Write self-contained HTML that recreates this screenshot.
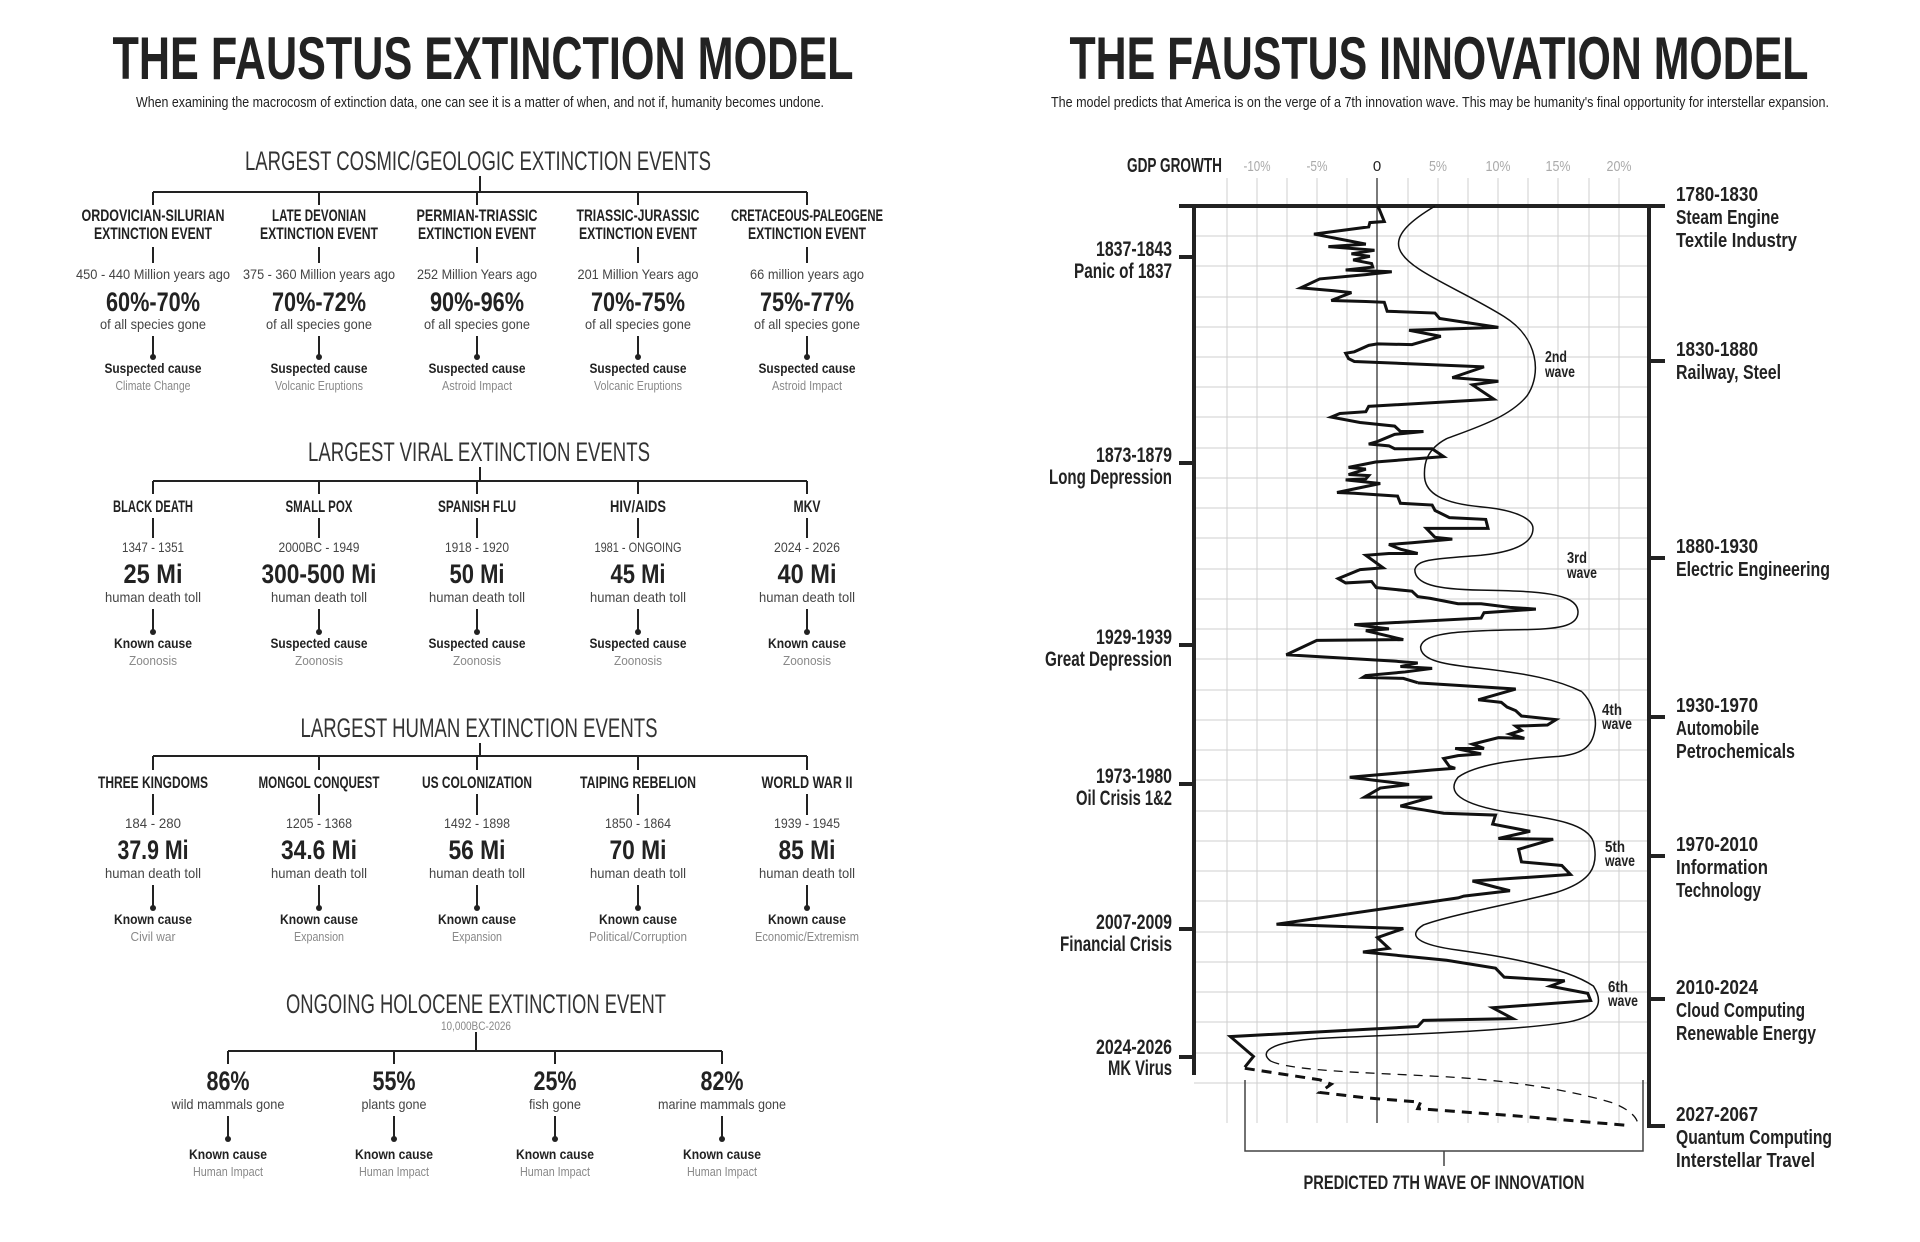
<!DOCTYPE html>
<html><head><meta charset="utf-8">
<style>
html,body{margin:0;padding:0;background:#fff}
svg{display:block}
text{font-family:"Liberation Sans Narrow","Liberation Sans",sans-serif;fill:#222}
.t{font-size:60px;font-weight:bold}
.st{font-size:15px}
.h{font-size:27px;fill:#333}
.n{font-size:17px;font-weight:bold;text-anchor:middle}
.d{font-size:14px;text-anchor:middle;fill:#444}
.b{font-size:27px;font-weight:bold;text-anchor:middle}
.s{font-size:14px;text-anchor:middle;fill:#444}
.c{font-size:14px;font-weight:bold;text-anchor:middle}
.g{font-size:13px;text-anchor:middle;fill:#888}
.ll{font-size:21px;font-weight:bold;text-anchor:end}
.rl{font-size:20px;font-weight:bold}
.tk{font-size:15px;fill:#aaa;text-anchor:middle}
.w{font-size:16px;font-weight:bold}
.m{text-anchor:middle}
</style></head><body>
<svg width="1920" height="1242" viewBox="0 0 1920 1242" xmlns="http://www.w3.org/2000/svg">
<!-- LEFT -->
<text class="t m" x="483" y="79" textLength="741" lengthAdjust="spacingAndGlyphs">THE FAUSTUS EXTINCTION MODEL</text>
<text class="st m" x="480" y="107" textLength="688" lengthAdjust="spacingAndGlyphs">When examining the macrocosm of extinction data, one can see it is a matter of when, and not if, humanity becomes undone.</text>

<g stroke="#222" stroke-width="2" fill="none">
<path d="M480 176V192M153 192H807M153 192V205M319 192V205M477 192V205M638 192V205M807 192V205"/>
<path d="M153 247V263M319 247V263M477 247V263M638 247V263M807 247V263"/>
<path d="M153 336V357M319 336V357M477 336V357M638 336V357M807 336V357"/>
<path d="M480 467V481M153 481H807M153 481V494M319 481V494M477 481V494M638 481V494M807 481V494"/>
<path d="M153 518V538M319 518V538M477 518V538M638 518V538M807 518V538"/>
<path d="M153 609V632M319 609V632M477 609V632M638 609V632M807 609V632"/>
<path d="M480 743V756M153 756H807M153 756V770M319 756V770M477 756V770M638 756V770M807 756V770"/>
<path d="M153 794V815M319 794V815M477 794V815M638 794V815M807 794V815"/>
<path d="M153 885V908M319 885V908M477 885V908M638 885V908M807 885V908"/>
<path d="M476 1032V1051M228 1051H722M228 1051V1064M394 1051V1064M555 1051V1064M722 1051V1064"/>
<path d="M228 1116V1139M394 1116V1139M555 1116V1139M722 1116V1139"/>
</g>
<g fill="#222">
<circle cx="153" cy="357" r="3"/><circle cx="319" cy="357" r="3"/><circle cx="477" cy="357" r="3"/><circle cx="638" cy="357" r="3"/><circle cx="807" cy="357" r="3"/>
<circle cx="153" cy="632" r="3"/><circle cx="319" cy="632" r="3"/><circle cx="477" cy="632" r="3"/><circle cx="638" cy="632" r="3"/><circle cx="807" cy="632" r="3"/>
<circle cx="153" cy="908" r="3"/><circle cx="319" cy="908" r="3"/><circle cx="477" cy="908" r="3"/><circle cx="638" cy="908" r="3"/><circle cx="807" cy="908" r="3"/>
<circle cx="228" cy="1139" r="3"/><circle cx="394" cy="1139" r="3"/><circle cx="555" cy="1139" r="3"/><circle cx="722" cy="1139" r="3"/>
</g>

<g lengthAdjust="spacingAndGlyphs">
<text class="h m" x="478" y="170" textLength="466" lengthAdjust="spacingAndGlyphs">LARGEST COSMIC/GEOLOGIC EXTINCTION EVENTS</text>
<text class="n" x="153" y="221" textLength="143" lengthAdjust="spacingAndGlyphs">ORDOVICIAN-SILURIAN</text>
<text class="n" x="153" y="239" textLength="118" lengthAdjust="spacingAndGlyphs">EXTINCTION EVENT</text>
<text class="n" x="319" y="221" textLength="94" lengthAdjust="spacingAndGlyphs">LATE DEVONIAN</text>
<text class="n" x="319" y="239" textLength="118" lengthAdjust="spacingAndGlyphs">EXTINCTION EVENT</text>
<text class="n" x="477" y="221" textLength="121" lengthAdjust="spacingAndGlyphs">PERMIAN-TRIASSIC</text>
<text class="n" x="477" y="239" textLength="118" lengthAdjust="spacingAndGlyphs">EXTINCTION EVENT</text>
<text class="n" x="638" y="221" textLength="123" lengthAdjust="spacingAndGlyphs">TRIASSIC-JURASSIC</text>
<text class="n" x="638" y="239" textLength="118" lengthAdjust="spacingAndGlyphs">EXTINCTION EVENT</text>
<text class="n" x="807" y="221" textLength="152" lengthAdjust="spacingAndGlyphs">CRETACEOUS-PALEOGENE</text>
<text class="n" x="807" y="239" textLength="118" lengthAdjust="spacingAndGlyphs">EXTINCTION EVENT</text>
<text class="d" x="153" y="279" textLength="154" lengthAdjust="spacingAndGlyphs">450 - 440 Million years ago</text>
<text class="d" x="319" y="279" textLength="152" lengthAdjust="spacingAndGlyphs">375 - 360 Million years ago</text>
<text class="d" x="477" y="279" textLength="120" lengthAdjust="spacingAndGlyphs">252 Million Years ago</text>
<text class="d" x="638" y="279" textLength="121" lengthAdjust="spacingAndGlyphs">201 Million Years ago</text>
<text class="d" x="807" y="279" textLength="114" lengthAdjust="spacingAndGlyphs">66 million years ago</text>
<text class="b" x="153" y="311" textLength="94" lengthAdjust="spacingAndGlyphs">60%-70%</text>
<text class="b" x="319" y="311" textLength="94" lengthAdjust="spacingAndGlyphs">70%-72%</text>
<text class="b" x="477" y="311" textLength="94" lengthAdjust="spacingAndGlyphs">90%-96%</text>
<text class="b" x="638" y="311" textLength="94" lengthAdjust="spacingAndGlyphs">70%-75%</text>
<text class="b" x="807" y="311" textLength="94" lengthAdjust="spacingAndGlyphs">75%-77%</text>
<text class="s" x="153" y="329" textLength="106" lengthAdjust="spacingAndGlyphs">of all species gone</text>
<text class="s" x="319" y="329" textLength="106" lengthAdjust="spacingAndGlyphs">of all species gone</text>
<text class="s" x="477" y="329" textLength="106" lengthAdjust="spacingAndGlyphs">of all species gone</text>
<text class="s" x="638" y="329" textLength="106" lengthAdjust="spacingAndGlyphs">of all species gone</text>
<text class="s" x="807" y="329" textLength="106" lengthAdjust="spacingAndGlyphs">of all species gone</text>
<text class="c" x="153" y="373" textLength="97" lengthAdjust="spacingAndGlyphs">Suspected cause</text>
<text class="c" x="319" y="373" textLength="97" lengthAdjust="spacingAndGlyphs">Suspected cause</text>
<text class="c" x="477" y="373" textLength="97" lengthAdjust="spacingAndGlyphs">Suspected cause</text>
<text class="c" x="638" y="373" textLength="97" lengthAdjust="spacingAndGlyphs">Suspected cause</text>
<text class="c" x="807" y="373" textLength="97" lengthAdjust="spacingAndGlyphs">Suspected cause</text>
<text class="g" x="153" y="390" textLength="75" lengthAdjust="spacingAndGlyphs">Climate Change</text>
<text class="g" x="319" y="390" textLength="88" lengthAdjust="spacingAndGlyphs">Volcanic Eruptions</text>
<text class="g" x="477" y="390" textLength="70" lengthAdjust="spacingAndGlyphs">Astroid Impact</text>
<text class="g" x="638" y="390" textLength="88" lengthAdjust="spacingAndGlyphs">Volcanic Eruptions</text>
<text class="g" x="807" y="390" textLength="70" lengthAdjust="spacingAndGlyphs">Astroid Impact</text>

<text class="h m" x="479" y="461" textLength="342" lengthAdjust="spacingAndGlyphs">LARGEST VIRAL EXTINCTION EVENTS</text>
<text class="n" x="153" y="512" textLength="80" lengthAdjust="spacingAndGlyphs">BLACK DEATH</text>
<text class="n" x="319" y="512" textLength="67" lengthAdjust="spacingAndGlyphs">SMALL POX</text>
<text class="n" x="477" y="512" textLength="78" lengthAdjust="spacingAndGlyphs">SPANISH FLU</text>
<text class="n" x="638" y="512" textLength="56" lengthAdjust="spacingAndGlyphs">HIV/AIDS</text>
<text class="n" x="807" y="512" textLength="27" lengthAdjust="spacingAndGlyphs">MKV</text>
<text class="d" x="153" y="552" textLength="62" lengthAdjust="spacingAndGlyphs">1347 - 1351</text>
<text class="d" x="319" y="552" textLength="81" lengthAdjust="spacingAndGlyphs">2000BC - 1949</text>
<text class="d" x="477" y="552" textLength="64" lengthAdjust="spacingAndGlyphs">1918 - 1920</text>
<text class="d" x="638" y="552" textLength="87" lengthAdjust="spacingAndGlyphs">1981 - ONGOING</text>
<text class="d" x="807" y="552" textLength="66" lengthAdjust="spacingAndGlyphs">2024 - 2026</text>
<text class="b" x="153" y="583" textLength="59" lengthAdjust="spacingAndGlyphs">25 Mi</text>
<text class="b" x="319" y="583" textLength="115" lengthAdjust="spacingAndGlyphs">300-500 Mi</text>
<text class="b" x="477" y="583" textLength="55" lengthAdjust="spacingAndGlyphs">50 Mi</text>
<text class="b" x="638" y="583" textLength="55" lengthAdjust="spacingAndGlyphs">45 Mi</text>
<text class="b" x="807" y="583" textLength="59" lengthAdjust="spacingAndGlyphs">40 Mi</text>
<text class="s" x="153" y="602" textLength="96" lengthAdjust="spacingAndGlyphs">human death toll</text>
<text class="s" x="319" y="602" textLength="96" lengthAdjust="spacingAndGlyphs">human death toll</text>
<text class="s" x="477" y="602" textLength="96" lengthAdjust="spacingAndGlyphs">human death toll</text>
<text class="s" x="638" y="602" textLength="96" lengthAdjust="spacingAndGlyphs">human death toll</text>
<text class="s" x="807" y="602" textLength="96" lengthAdjust="spacingAndGlyphs">human death toll</text>
<text class="c" x="153" y="648" textLength="78" lengthAdjust="spacingAndGlyphs">Known cause</text>
<text class="c" x="319" y="648" textLength="97" lengthAdjust="spacingAndGlyphs">Suspected cause</text>
<text class="c" x="477" y="648" textLength="97" lengthAdjust="spacingAndGlyphs">Suspected cause</text>
<text class="c" x="638" y="648" textLength="97" lengthAdjust="spacingAndGlyphs">Suspected cause</text>
<text class="c" x="807" y="648" textLength="78" lengthAdjust="spacingAndGlyphs">Known cause</text>
<text class="g" x="153" y="665" textLength="48" lengthAdjust="spacingAndGlyphs">Zoonosis</text>
<text class="g" x="319" y="665" textLength="48" lengthAdjust="spacingAndGlyphs">Zoonosis</text>
<text class="g" x="477" y="665" textLength="48" lengthAdjust="spacingAndGlyphs">Zoonosis</text>
<text class="g" x="638" y="665" textLength="48" lengthAdjust="spacingAndGlyphs">Zoonosis</text>
<text class="g" x="807" y="665" textLength="48" lengthAdjust="spacingAndGlyphs">Zoonosis</text>

<text class="h m" x="479" y="737" textLength="357" lengthAdjust="spacingAndGlyphs">LARGEST HUMAN EXTINCTION EVENTS</text>
<text class="n" x="153" y="788" textLength="110" lengthAdjust="spacingAndGlyphs">THREE KINGDOMS</text>
<text class="n" x="319" y="788" textLength="121" lengthAdjust="spacingAndGlyphs">MONGOL CONQUEST</text>
<text class="n" x="477" y="788" textLength="110" lengthAdjust="spacingAndGlyphs">US COLONIZATION</text>
<text class="n" x="638" y="788" textLength="116" lengthAdjust="spacingAndGlyphs">TAIPING REBELION</text>
<text class="n" x="807" y="788" textLength="91" lengthAdjust="spacingAndGlyphs">WORLD WAR II</text>
<text class="d" x="153" y="828" textLength="56" lengthAdjust="spacingAndGlyphs">184 - 280</text>
<text class="d" x="319" y="828" textLength="66" lengthAdjust="spacingAndGlyphs">1205 - 1368</text>
<text class="d" x="477" y="828" textLength="66" lengthAdjust="spacingAndGlyphs">1492 - 1898</text>
<text class="d" x="638" y="828" textLength="66" lengthAdjust="spacingAndGlyphs">1850 - 1864</text>
<text class="d" x="807" y="828" textLength="66" lengthAdjust="spacingAndGlyphs">1939 - 1945</text>
<text class="b" x="153" y="859" textLength="71" lengthAdjust="spacingAndGlyphs">37.9 Mi</text>
<text class="b" x="319" y="859" textLength="76" lengthAdjust="spacingAndGlyphs">34.6 Mi</text>
<text class="b" x="477" y="859" textLength="57" lengthAdjust="spacingAndGlyphs">56 Mi</text>
<text class="b" x="638" y="859" textLength="57" lengthAdjust="spacingAndGlyphs">70 Mi</text>
<text class="b" x="807" y="859" textLength="57" lengthAdjust="spacingAndGlyphs">85 Mi</text>
<text class="s" x="153" y="878" textLength="96" lengthAdjust="spacingAndGlyphs">human death toll</text>
<text class="s" x="319" y="878" textLength="96" lengthAdjust="spacingAndGlyphs">human death toll</text>
<text class="s" x="477" y="878" textLength="96" lengthAdjust="spacingAndGlyphs">human death toll</text>
<text class="s" x="638" y="878" textLength="96" lengthAdjust="spacingAndGlyphs">human death toll</text>
<text class="s" x="807" y="878" textLength="96" lengthAdjust="spacingAndGlyphs">human death toll</text>
<text class="c" x="153" y="924" textLength="78" lengthAdjust="spacingAndGlyphs">Known cause</text>
<text class="c" x="319" y="924" textLength="78" lengthAdjust="spacingAndGlyphs">Known cause</text>
<text class="c" x="477" y="924" textLength="78" lengthAdjust="spacingAndGlyphs">Known cause</text>
<text class="c" x="638" y="924" textLength="78" lengthAdjust="spacingAndGlyphs">Known cause</text>
<text class="c" x="807" y="924" textLength="78" lengthAdjust="spacingAndGlyphs">Known cause</text>
<text class="g" x="153" y="941" textLength="45" lengthAdjust="spacingAndGlyphs">Civil war</text>
<text class="g" x="319" y="941" textLength="50" lengthAdjust="spacingAndGlyphs">Expansion</text>
<text class="g" x="477" y="941" textLength="50" lengthAdjust="spacingAndGlyphs">Expansion</text>
<text class="g" x="638" y="941" textLength="98" lengthAdjust="spacingAndGlyphs">Political/Corruption</text>
<text class="g" x="807" y="941" textLength="104" lengthAdjust="spacingAndGlyphs">Economic/Extremism</text>

<text class="h m" x="476" y="1013" textLength="380" lengthAdjust="spacingAndGlyphs">ONGOING HOLOCENE EXTINCTION EVENT</text>
<text class="g" x="476" y="1030" style="font-size:12px" textLength="70" lengthAdjust="spacingAndGlyphs">10,000BC-2026</text>
<text class="b" x="228" y="1090" textLength="43" lengthAdjust="spacingAndGlyphs">86%</text>
<text class="b" x="394" y="1090" textLength="43" lengthAdjust="spacingAndGlyphs">55%</text>
<text class="b" x="555" y="1090" textLength="43" lengthAdjust="spacingAndGlyphs">25%</text>
<text class="b" x="722" y="1090" textLength="43" lengthAdjust="spacingAndGlyphs">82%</text>
<text class="s" x="228" y="1109" textLength="113" lengthAdjust="spacingAndGlyphs">wild mammals gone</text>
<text class="s" x="394" y="1109" textLength="65" lengthAdjust="spacingAndGlyphs">plants gone</text>
<text class="s" x="555" y="1109" textLength="52" lengthAdjust="spacingAndGlyphs">fish gone</text>
<text class="s" x="722" y="1109" textLength="128" lengthAdjust="spacingAndGlyphs">marine mammals gone</text>
<text class="c" x="228" y="1159" textLength="78" lengthAdjust="spacingAndGlyphs">Known cause</text>
<text class="c" x="394" y="1159" textLength="78" lengthAdjust="spacingAndGlyphs">Known cause</text>
<text class="c" x="555" y="1159" textLength="78" lengthAdjust="spacingAndGlyphs">Known cause</text>
<text class="c" x="722" y="1159" textLength="78" lengthAdjust="spacingAndGlyphs">Known cause</text>
<text class="g" x="228" y="1176" textLength="70" lengthAdjust="spacingAndGlyphs">Human Impact</text>
<text class="g" x="394" y="1176" textLength="70" lengthAdjust="spacingAndGlyphs">Human Impact</text>
<text class="g" x="555" y="1176" textLength="70" lengthAdjust="spacingAndGlyphs">Human Impact</text>
<text class="g" x="722" y="1176" textLength="70" lengthAdjust="spacingAndGlyphs">Human Impact</text>
</g>

<!-- RIGHT -->
<text class="t m" x="1439" y="79" textLength="739" lengthAdjust="spacingAndGlyphs">THE FAUSTUS INNOVATION MODEL</text>
<text class="st m" x="1440" y="107" textLength="778" lengthAdjust="spacingAndGlyphs">The model predicts that America is on the verge of a 7th innovation wave.  This may be humanity's final opportunity for interstellar expansion.</text>

<text x="1222" y="172" style="font-size:20px;font-weight:bold;text-anchor:end" textLength="95" lengthAdjust="spacingAndGlyphs">GDP GROWTH</text>
<text class="tk" x="1257" y="171" textLength="27" lengthAdjust="spacingAndGlyphs">-10%</text>
<text class="tk" x="1317" y="171" textLength="21" lengthAdjust="spacingAndGlyphs">-5%</text>
<text class="tk" x="1377" y="171" style="fill:#222">0</text>
<text class="tk" x="1438" y="171" textLength="18" lengthAdjust="spacingAndGlyphs">5%</text>
<text class="tk" x="1498" y="171" textLength="25" lengthAdjust="spacingAndGlyphs">10%</text>
<text class="tk" x="1558" y="171" textLength="25" lengthAdjust="spacingAndGlyphs">15%</text>
<text class="tk" x="1619" y="171" textLength="25" lengthAdjust="spacingAndGlyphs">20%</text>

<g stroke="#cfcfcf" stroke-width="1">
<path d="M1227 178V1123M1257 178V1123M1287 178V1123M1317 178V1123M1347 178V1123M1408 178V1123M1438 178V1123M1468 178V1123M1498 178V1123M1528 178V1123M1558 178V1123M1589 178V1123M1619 178V1123"/>
<path d="M1194 236H1649M1194 266H1649M1194 297H1649M1194 327H1649M1194 357H1649M1194 387H1649M1194 417H1649M1194 448H1649M1194 478H1649M1194 508H1649M1194 538H1649M1194 569H1649M1194 599H1649M1194 629H1649M1194 659H1649M1194 690H1649M1194 720H1649M1194 750H1649M1194 780H1649M1194 811H1649M1194 841H1649M1194 871H1649M1194 901H1649M1194 932H1649M1194 962H1649M1194 992H1649M1194 1022H1649M1194 1053H1649M1194 1083H1649"/>
</g>
<path d="M1377 178V1123" stroke="#222" stroke-width="1.2"/>
<g stroke="#222" stroke-width="4" fill="none">
<path d="M1179 206H1665"/>
<path d="M1194 206V1075"/>
<path d="M1649 206V1126H1665"/>
<path d="M1179 257H1194M1179 463H1194M1179 645H1194M1179 784H1194M1179 929H1194M1179 1057H1194"/>
<path d="M1649 361H1665M1649 558H1665M1649 717H1665M1649 856H1665M1649 999H1665"/>
</g>

<!-- left labels -->
<g>
<text class="ll" x="1172" y="256" textLength="76" lengthAdjust="spacingAndGlyphs">1837-1843</text><text class="ll" x="1172" y="278" textLength="98" lengthAdjust="spacingAndGlyphs">Panic of 1837</text>
<text class="ll" x="1172" y="462" textLength="76" lengthAdjust="spacingAndGlyphs">1873-1879</text><text class="ll" x="1172" y="484" textLength="123" lengthAdjust="spacingAndGlyphs">Long Depression</text>
<text class="ll" x="1172" y="644" textLength="76" lengthAdjust="spacingAndGlyphs">1929-1939</text><text class="ll" x="1172" y="666" textLength="127" lengthAdjust="spacingAndGlyphs">Great Depression</text>
<text class="ll" x="1172" y="783" textLength="76" lengthAdjust="spacingAndGlyphs">1973-1980</text><text class="ll" x="1172" y="805" textLength="96" lengthAdjust="spacingAndGlyphs">Oil Crisis 1&amp;2</text>
<text class="ll" x="1172" y="929" textLength="76" lengthAdjust="spacingAndGlyphs">2007-2009</text><text class="ll" x="1172" y="951" textLength="112" lengthAdjust="spacingAndGlyphs">Financial Crisis</text>
<text class="ll" x="1172" y="1054" textLength="76" lengthAdjust="spacingAndGlyphs">2024-2026</text><text class="ll" x="1172" y="1075" textLength="64" lengthAdjust="spacingAndGlyphs">MK Virus</text>
</g>

<!-- right labels -->
<text class="rl" x="1676" y="201" textLength="82" lengthAdjust="spacingAndGlyphs">1780-1830</text><text class="rl" x="1676" y="224" textLength="103" lengthAdjust="spacingAndGlyphs">Steam Engine</text><text class="rl" x="1676" y="247" textLength="121" lengthAdjust="spacingAndGlyphs">Textile Industry</text>
<text class="rl" x="1676" y="356" textLength="82" lengthAdjust="spacingAndGlyphs">1830-1880</text><text class="rl" x="1676" y="379" textLength="105" lengthAdjust="spacingAndGlyphs">Railway, Steel</text>
<text class="rl" x="1676" y="553" textLength="82" lengthAdjust="spacingAndGlyphs">1880-1930</text><text class="rl" x="1676" y="576" textLength="154" lengthAdjust="spacingAndGlyphs">Electric Engineering</text>
<text class="rl" x="1676" y="712" textLength="82" lengthAdjust="spacingAndGlyphs">1930-1970</text><text class="rl" x="1676" y="735" textLength="83" lengthAdjust="spacingAndGlyphs">Automobile</text><text class="rl" x="1676" y="758" textLength="119" lengthAdjust="spacingAndGlyphs">Petrochemicals</text>
<text class="rl" x="1676" y="851" textLength="82" lengthAdjust="spacingAndGlyphs">1970-2010</text><text class="rl" x="1676" y="874" textLength="92" lengthAdjust="spacingAndGlyphs">Information</text><text class="rl" x="1676" y="897" textLength="85" lengthAdjust="spacingAndGlyphs">Technology</text>
<text class="rl" x="1676" y="994" textLength="82" lengthAdjust="spacingAndGlyphs">2010-2024</text><text class="rl" x="1676" y="1017" textLength="129" lengthAdjust="spacingAndGlyphs">Cloud Computing</text><text class="rl" x="1676" y="1040" textLength="140" lengthAdjust="spacingAndGlyphs">Renewable Energy</text>
<text class="rl" x="1676" y="1121" textLength="82" lengthAdjust="spacingAndGlyphs">2027-2067</text><text class="rl" x="1676" y="1144" textLength="156" lengthAdjust="spacingAndGlyphs">Quantum Computing</text><text class="rl" x="1676" y="1167" textLength="139" lengthAdjust="spacingAndGlyphs">Interstellar Travel</text>

<!-- wave labels -->
<text class="w" x="1545" y="362" textLength="22" lengthAdjust="spacingAndGlyphs">2nd</text><text class="w" x="1545" y="377" textLength="30" lengthAdjust="spacingAndGlyphs">wave</text>
<text class="w" x="1567" y="563" textLength="20" lengthAdjust="spacingAndGlyphs">3rd</text><text class="w" x="1567" y="578" textLength="30" lengthAdjust="spacingAndGlyphs">wave</text>
<text class="w" x="1602" y="715" textLength="20" lengthAdjust="spacingAndGlyphs">4th</text><text class="w" x="1602" y="729" textLength="30" lengthAdjust="spacingAndGlyphs">wave</text>
<text class="w" x="1605" y="852" textLength="20" lengthAdjust="spacingAndGlyphs">5th</text><text class="w" x="1605" y="866" textLength="30" lengthAdjust="spacingAndGlyphs">wave</text>
<text class="w" x="1608" y="992" textLength="20" lengthAdjust="spacingAndGlyphs">6th</text><text class="w" x="1608" y="1006" textLength="30" lengthAdjust="spacingAndGlyphs">wave</text>

<!-- series part 1 -->
<g transform="translate(1020,130) scale(0.5764,0.3589)" fill="none" stroke="#111">
<polyline vector-effect="non-scaling-stroke" stroke-width="3" points="621,212 632,255 607,258 605,270 510,290 600,318 535,325 615,335 575,345 607,352 578,362 610,372 612,382 565,390 645,395 600,403 520,415 487,440 545,448 575,453 540,475 600,478 632,480 637,505 720,510 728,525 830,550 675,558 730,575 680,598 620,596 605,600 580,618 565,622 570,637 580,645 805,660 750,690 830,700 785,710 822,750 605,770 600,785 555,790 540,800 590,815 650,825 660,840 700,840 650,848 620,868 605,875 640,880 650,888 715,888 735,910 617,925 570,940 600,945 570,960 605,963 600,972 565,975 625,985 550,1010 580,1012 655,1020 660,1040 715,1045 720,1060 745,1080 808,1085 812,1110 705,1110 720,1135 750,1140 680,1150 640,1155 660,1168 690,1180 640,1180 600,1185 630,1220 590,1225 552,1250 565,1262 610,1258 618,1275 680,1285 690,1300 712,1305 760,1320 800,1320 850,1330 895,1335 805,1345 800,1360 620,1375 580,1378 640,1390 600,1395 665,1420 515,1422 462,1462 650,1480 690,1485 660,1495 715,1500 668,1510 600,1520 595,1525 665,1528 690,1540"/>
<path vector-effect="non-scaling-stroke" stroke-width="1.5" d="M720,212 C680,250 650,290 658,330 C670,390 760,440 840,520 C900,580 905,680 880,740 C850,800 790,830 740,860 C705,890 700,930 702,970 C705,1010 730,1040 800,1050 C870,1060 890,1090 890,1110 C890,1150 860,1175 800,1185 C720,1195 690,1195 685,1225 C685,1265 720,1280 800,1282 C900,1285 965,1290 968,1340 C970,1380 940,1390 880,1392 C760,1395 700,1400 695,1440 C695,1480 740,1490 800,1500 C880,1515 930,1530 975,1565"/>
</g>
<!-- series part 2 -->
<g transform="translate(1020,680) scale(0.5764,0.3602)" fill="none" stroke="#111">
<polyline vector-effect="non-scaling-stroke" stroke-width="3" points="690,8 860,25 795,55 835,62 845,75 860,85 870,100 930,110 915,125 860,128 870,140 850,150 875,162 830,160 785,178 805,190 755,190 800,205 760,210 735,218 745,240 755,245 715,250 680,255 572,270 675,290 625,300 598,325 715,325 660,350 735,370 825,375 820,400 885,420 830,440 925,442 865,470 870,505 940,515 955,540 785,558 825,575 850,585 770,600 760,605 445,678 665,690 620,715 640,745 595,755 740,778 825,800 840,825 945,835 920,850 985,870 990,890 820,910 855,940 700,945 690,962 365,990 405,1045 390,1075"/>
<path vector-effect="non-scaling-stroke" stroke-width="1.5" d="M975,33 C992,60 1000,100 998,130 C995,180 980,205 935,212 C860,220 790,235 760,270 C740,310 760,345 850,368 C930,385 985,400 995,450 C1005,520 990,560 930,590 C860,620 750,650 700,680 C670,710 690,735 760,750 C850,770 950,800 995,850 C1015,900 1000,935 950,950 C850,975 650,985 520,995 C430,1005 415,1035 435,1058"/>
<path vector-effect="non-scaling-stroke" stroke-width="1.3" stroke-dasharray="9,7" d="M435,1058 C470,1085 600,1090 720,1100 C850,1110 960,1140 1030,1175 C1060,1195 1070,1215 1072,1232"/>
<polyline vector-effect="non-scaling-stroke" stroke-width="3" stroke-dasharray="10,7" points="390,1078 520,1110 540,1122 520,1145 600,1160 695,1172 690,1190 860,1210 1050,1236"/>
</g>

<!-- bracket -->
<path d="M1245 1080V1151H1643V1080M1444 1151V1166" stroke="#444" stroke-width="1.5" fill="none"/>
<text x="1444" y="1189" class="m" style="font-size:19px;font-weight:bold" textLength="281" lengthAdjust="spacingAndGlyphs">PREDICTED 7TH WAVE OF INNOVATION</text>
</svg>
</body></html>
